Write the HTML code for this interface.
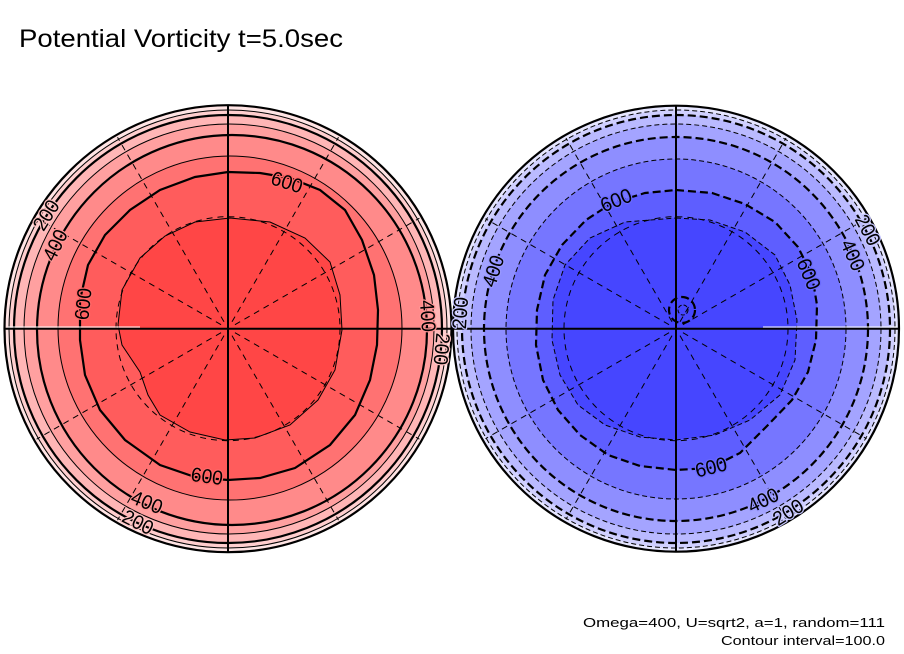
<!DOCTYPE html>
<html>
<head>
<meta charset="utf-8">
<style>
  html, body { margin: 0; padding: 0; background: #ffffff; }
  svg { display: block; }
  text { font-family: "Liberation Sans", "DejaVu Sans", sans-serif; fill: #000; }
  .lbl { font-size: 20px; paint-order: stroke; stroke-width: 2.5px; stroke-linejoin: round; }
</style>
</head>
<body>
<svg width="904" height="654" viewBox="0 0 904 654" xmlns="http://www.w3.org/2000/svg">
  <rect x="0" y="0" width="904" height="654" fill="#ffffff"/>

  <!-- Title -->
  <text x="19" y="47" font-size="25" textLength="324" lengthAdjust="spacingAndGlyphs">Potential Vorticity t=5.0sec</text>

  <!-- ================= LEFT PLOT ================= -->
  <g>
    <circle cx="228" cy="328.7" r="223.5" fill="#ffe4e4"/>
    <circle cx="228" cy="329" r="219" fill="#ffcece"/>
    <circle cx="228" cy="329" r="214" fill="#ffb6b6"/>
    <circle cx="229" cy="329" r="205" fill="#ffa0a0"/>
    <circle cx="232" cy="330" r="195" fill="#ff8a8a"/>
    <circle cx="230" cy="328" r="172" fill="#ff7272"/>
    <path id="L600" d="M228,172 L260,173 L290,178 L320,190 L345,210 L362,240 L374,275 L378,310 L377,345 L370,380 L355,415 L330,445 L295,468 L260,478 L228,480 L195,477 L160,465 L125,440 L100,410 L85,375 L80,340 L80,300 L88,265 L105,235 L130,210 L160,190 L195,177 Z" fill="#ff5c5c"/>
    <path id="L700" d="M230,218 L270,222 L305,238 L330,262 L340,295 L342,330 L335,370 L318,400 L290,425 L255,438 L225,440 L190,432 L160,415 L148,395 L140,372 L132,360 L122,345 L118,325 L122,290 L140,258 L165,236 L195,222 Z" fill="#ff4646"/>
    <path d="M205,310 L213,297 L220,293 L226,296 L233,293 L240,299 L247,303 L252,312 L256,320 L254,330 L248,337 L238,339 L228,337 L220,333 L213,327 L208,320 Z" fill="#ff2c2c" stroke="#000" stroke-width="2.2"/>
    <circle cx="232" cy="318" r="5" fill="#ff1010" stroke="#000" stroke-width="0.8"/>

    <g fill="none" stroke="#000">
      <circle cx="228" cy="329" r="219" stroke-width="1"/>
      <circle cx="228" cy="329" r="214" stroke-width="2.2"/>
      <circle cx="229" cy="329" r="205" stroke-width="1"/>
      <circle cx="232" cy="330" r="195" stroke-width="2.2"/>
      <circle cx="230" cy="328" r="172" stroke-width="1"/>
      <use href="#L600" fill="none" stroke-width="2.2"/>
      <use href="#L700" fill="none" stroke-width="1"/>
    </g>

    <g fill="none" stroke="#000" stroke-width="1" stroke-dasharray="6 5" transform="translate(228,328.7)">
      <line x1="8" y1="0" x2="221" y2="0" transform="rotate(-30)"/>
      <line x1="8" y1="0" x2="221" y2="0" transform="rotate(-60)"/>
      <line x1="8" y1="0" x2="221" y2="0" transform="rotate(-120)"/>
      <line x1="8" y1="0" x2="221" y2="0" transform="rotate(-150)"/>
      <line x1="8" y1="0" x2="221" y2="0" transform="rotate(30)"/>
      <line x1="8" y1="0" x2="221" y2="0" transform="rotate(60)"/>
      <line x1="8" y1="0" x2="221" y2="0" transform="rotate(120)"/>
      <line x1="8" y1="0" x2="221" y2="0" transform="rotate(150)"/>
      <circle cx="0" cy="0" r="112"/>
    </g>

    <line x1="228" y1="105" x2="228" y2="552" stroke="#000" stroke-width="2"/>
    <line x1="4.5" y1="328.7" x2="451.5" y2="328.7" stroke="#000" stroke-width="2"/>
    <line x1="8" y1="327" x2="140" y2="327" stroke="#fff" stroke-width="1"/>
    <circle cx="228" cy="328.7" r="223.5" fill="none" stroke="#000" stroke-width="2.2"/>

    <text class="lbl" stroke="#ffc2c2" x="46" y="215" dy="7" text-anchor="middle" textLength="32" lengthAdjust="spacingAndGlyphs" transform="rotate(-58 46 215)">200</text>
    <text class="lbl" stroke="#ff9595" x="55" y="245" dy="7" text-anchor="middle" textLength="32" lengthAdjust="spacingAndGlyphs" transform="rotate(-64 55 245)">400</text>
    <text class="lbl" stroke="#ff6767" x="83" y="304" dy="7" text-anchor="middle" textLength="32" lengthAdjust="spacingAndGlyphs" transform="rotate(-84 83 304)">600</text>
    <text class="lbl" stroke="#ff6767" x="287" y="182" dy="7" text-anchor="middle" textLength="32" lengthAdjust="spacingAndGlyphs" transform="rotate(18 287 182)">600</text>
    <text class="lbl" stroke="#ff9595" x="428" y="316" dy="7" text-anchor="middle" textLength="32" lengthAdjust="spacingAndGlyphs" transform="rotate(86 428 316)">400</text>
    <text class="lbl" stroke="#ffc2c2" x="442" y="349" dy="7" text-anchor="middle" textLength="32" lengthAdjust="spacingAndGlyphs" transform="rotate(95 442 349)">200</text>
    <text class="lbl" stroke="#ff6767" x="207" y="476" dy="7" text-anchor="middle" textLength="32" lengthAdjust="spacingAndGlyphs" transform="rotate(8 207 476)">600</text>
    <text class="lbl" stroke="#ff9595" x="147" y="502" dy="7" text-anchor="middle" textLength="32" lengthAdjust="spacingAndGlyphs" transform="rotate(22 147 502)">400</text>
    <text class="lbl" stroke="#ffc2c2" x="138" y="522" dy="7" text-anchor="middle" textLength="32" lengthAdjust="spacingAndGlyphs" transform="rotate(27 138 522)">200</text>
  </g>

  <!-- ================= RIGHT PLOT ================= -->
  <g>
    <circle cx="676" cy="328.7" r="223" fill="#e6e6ff"/>
    <circle cx="676" cy="329" r="219" fill="#d0d0ff"/>
    <circle cx="676" cy="329" r="214" fill="#babaff"/>
    <circle cx="676" cy="329" r="205" fill="#a4a4ff"/>
    <circle cx="676" cy="329" r="192" fill="#8e8eff"/>
    <circle cx="676" cy="329" r="170" fill="#7676ff"/>
    <path id="R600" d="M676,190 L712,193 L745,204 L775,222 L798,247 L812,275 L817,305 L816,340 L808,372 L792,400 L768,425 L740,453 L710,468 L676,470 L640,466 L608,455 L580,435 L558,410 L543,380 L536,345 L537,310 L545,275 L562,245 L586,220 L612,203 L645,193 Z" fill="#5e5eff"/>
    <path id="R700" d="M676,218 L710,220 L745,232 L775,255 L790,285 L797,320 L795,360 L780,395 L750,420 L715,435 L676,440 L640,437 L605,425 L578,405 L560,375 L552,340 L553,300 L565,265 L590,238 L625,222 Z" fill="#4646ff"/>
    <circle cx="682" cy="310" r="13" fill="#2e2eff"/>
    <circle cx="683" cy="310" r="5" fill="#1414ff"/>

    <g fill="none" stroke="#000">
      <circle cx="676" cy="329" r="219" stroke-width="1" stroke-dasharray="5 3"/>
      <circle cx="676" cy="329" r="214" stroke-width="2.2" stroke-dasharray="8 4"/>
      <circle cx="676" cy="329" r="205" stroke-width="1" stroke-dasharray="5 3"/>
      <circle cx="676" cy="329" r="192" stroke-width="2.2" stroke-dasharray="8 4"/>
      <circle cx="676" cy="329" r="170" stroke-width="1" stroke-dasharray="5 3"/>
      <use href="#R600" fill="none" stroke-width="2.2" stroke-dasharray="8 4"/>
      <use href="#R700" fill="none" stroke-width="1" stroke-dasharray="5 3"/>
      <circle cx="682" cy="310" r="13" stroke-width="2.2" stroke-dasharray="8 4"/>
      <circle cx="683" cy="310" r="5" stroke-width="1" stroke-dasharray="4 2"/>
    </g>

    <g fill="none" stroke="#000" stroke-width="1" stroke-dasharray="6 5" transform="translate(676,328.7)">
      <line x1="8" y1="0" x2="220" y2="0" transform="rotate(-30)"/>
      <line x1="8" y1="0" x2="220" y2="0" transform="rotate(-60)"/>
      <line x1="8" y1="0" x2="220" y2="0" transform="rotate(-120)"/>
      <line x1="8" y1="0" x2="220" y2="0" transform="rotate(-150)"/>
      <line x1="8" y1="0" x2="220" y2="0" transform="rotate(30)"/>
      <line x1="8" y1="0" x2="220" y2="0" transform="rotate(60)"/>
      <line x1="8" y1="0" x2="220" y2="0" transform="rotate(120)"/>
      <line x1="8" y1="0" x2="220" y2="0" transform="rotate(150)"/>
      <circle cx="0" cy="0" r="112"/>
    </g>

    <line x1="676" y1="105.5" x2="676" y2="552" stroke="#000" stroke-width="2"/>
    <line x1="453" y1="328.7" x2="899" y2="328.7" stroke="#000" stroke-width="2"/>
    <line x1="763" y1="327" x2="897" y2="327" stroke="#fff" stroke-width="1"/>
    <circle cx="676" cy="328.7" r="223" fill="none" stroke="#000" stroke-width="2.2"/>

    <text class="lbl" stroke="#c5c5ff" x="460" y="313" dy="7" text-anchor="middle" textLength="32" lengthAdjust="spacingAndGlyphs" transform="rotate(-86 460 313)">200</text>
    <text class="lbl" stroke="#9999ff" x="493" y="271" dy="7" text-anchor="middle" textLength="32" lengthAdjust="spacingAndGlyphs" transform="rotate(-72 493 271)">400</text>
    <text class="lbl" stroke="#6a6aff" x="616" y="200" dy="7" text-anchor="middle" textLength="32" lengthAdjust="spacingAndGlyphs" transform="rotate(-22 616 200)">600</text>
    <text class="lbl" stroke="#6a6aff" x="809" y="274" dy="7" text-anchor="middle" textLength="32" lengthAdjust="spacingAndGlyphs" transform="rotate(67 809 274)">600</text>
    <text class="lbl" stroke="#9999ff" x="853" y="255" dy="7" text-anchor="middle" textLength="32" lengthAdjust="spacingAndGlyphs" transform="rotate(66 853 255)">400</text>
    <text class="lbl" stroke="#c5c5ff" x="868" y="230" dy="7" text-anchor="middle" textLength="32" lengthAdjust="spacingAndGlyphs" transform="rotate(62 868 230)">200</text>
    <text class="lbl" stroke="#6a6aff" x="711" y="467" dy="7" text-anchor="middle" textLength="32" lengthAdjust="spacingAndGlyphs" transform="rotate(-14 711 467)">600</text>
    <text class="lbl" stroke="#9999ff" x="763" y="500" dy="7" text-anchor="middle" textLength="32" lengthAdjust="spacingAndGlyphs" transform="rotate(-26 763 500)">400</text>
    <text class="lbl" stroke="#c5c5ff" x="788" y="512" dy="7" text-anchor="middle" textLength="32" lengthAdjust="spacingAndGlyphs" transform="rotate(-32 788 512)">200</text>
  </g>

  <text x="885" y="627" font-size="13" text-anchor="end" textLength="302" lengthAdjust="spacingAndGlyphs">Omega=400, U=sqrt2, a=1, random=111</text>
  <text x="885" y="645" font-size="13" text-anchor="end" textLength="164" lengthAdjust="spacingAndGlyphs">Contour interval=100.0</text>
</svg>
</body>
</html>
